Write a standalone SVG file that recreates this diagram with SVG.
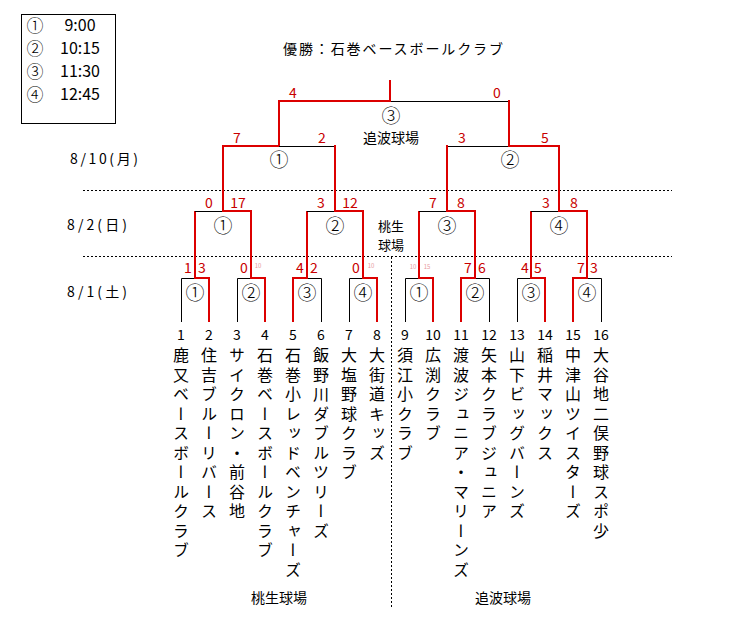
<svg xmlns="http://www.w3.org/2000/svg" width="734" height="635" viewBox="0 0 734 635">
<style>
text{font-family:"Noto Sans CJK JP","Noto Sans",sans-serif;fill:#000;}
.t{font-size:14px;text-anchor:middle;dominant-baseline:central;}
.c{font-size:19px;text-anchor:middle;dominant-baseline:central;font-weight:300;}
.cl{font-size:17px;text-anchor:middle;dominant-baseline:central;font-weight:300;}
.tm{font-size:16px;text-anchor:middle;dominant-baseline:central;}
.s{font-size:14px;text-anchor:middle;dominant-baseline:central;fill:#c80000;}
.tiny{font-size:6px;text-anchor:middle;dominant-baseline:central;fill:#e89aa0;}
.n{font-size:16px;writing-mode:vertical-rl;letter-spacing:3.5px;}
.v{font-size:13px;text-anchor:middle;dominant-baseline:central;}
.r{stroke:#dc0000;stroke-width:2;fill:none;stroke-linecap:square;}
.k{stroke:#000;stroke-width:1;fill:none;}
.d{stroke:#000;stroke-width:1;fill:none;stroke-dasharray:2,2;}
</style>
<rect width="734" height="635" fill="#fff"/>

<g id="legend">
<rect x="21.5" y="14.5" width="94" height="109" class="k"/>
<text class="cl" x="35" y="24">①</text><text class="tm" x="80" y="24">9:00</text>
<text class="cl" x="35" y="47">②</text><text class="tm" x="80" y="47">10:15</text>
<text class="cl" x="35" y="70">③</text><text class="tm" x="80" y="70">11:30</text>
<text class="cl" x="35" y="93">④</text><text class="tm" x="80" y="93">12:45</text>
</g>

<g id="title"><text class="t" x="393" y="48" textLength="220" lengthAdjust="spacing">優勝：石巻ベースボールクラブ</text></g>

<g id="dates">
<text x="70" y="158" font-size="14" dominant-baseline="central" textLength="68" lengthAdjust="spacing">8/10(月)</text>
<text x="67" y="224" font-size="14" dominant-baseline="central" textLength="60" lengthAdjust="spacing">8/2(日)</text>
<text x="67" y="291" font-size="14" dominant-baseline="central" textLength="60" lengthAdjust="spacing">8/1(土)</text>
</g>

<g id="separators">
<line x1="83" y1="190.5" x2="672" y2="190.5" class="d"/>
<line x1="83" y1="256.5" x2="672" y2="256.5" class="d"/>
<line x1="391.5" y1="257" x2="391.5" y2="607" class="d"/>
</g>

<g id="connectors">
<path class="k" d="M181.5 322V278.5H195"/>
<path class="k" d="M237.5 322V278.5H251"/>
<path class="k" d="M321.5 322V278.5H307"/>
<path class="k" d="M349.5 322V278.5H363"/>
<path class="k" d="M405.5 322V278.5H419"/>
<path class="k" d="M489.5 322V278.5H475"/>
<path class="k" d="M517.5 322V278.5H531"/>
<path class="k" d="M601.5 322V278.5H587"/>
<path class="r" d="M209 321V278H195V212"/>
<path class="r" d="M265 321V278H251V212"/>
<path class="r" d="M293 321V278H307V212"/>
<path class="r" d="M377 321V278H363V212"/>
<path class="r" d="M433 321V278H419V212"/>
<path class="r" d="M461 321V278H475V212"/>
<path class="r" d="M545 321V278H531V212"/>
<path class="r" d="M573 321V278H587V212"/>
<path class="k" d="M195 211.5H223"/>
<path class="r" d="M251 211H223V147"/>
<path class="k" d="M307 211.5H335"/>
<path class="r" d="M363 211H335V147"/>
<path class="k" d="M419 211.5H447"/>
<path class="r" d="M475 211H447V147"/>
<path class="k" d="M531 211.5H559"/>
<path class="r" d="M587 211H559V147"/>
<path class="r" d="M223 146H279V102"/>
<path class="k" d="M279 146.5H335"/>
<path class="r" d="M335 146V211"/>
<path class="k" d="M447 146.5H509"/>
<path class="r" d="M447 146V211"/>
<path class="r" d="M223 146V211"/>
<path class="r" d="M559 146H509V102"/>
<path class="k" d="M390 101.5H509"/>
<path class="r" d="M279 101H390V81"/>
<path class="r" d="M509 101V146"/>
</g>

<g id="final">
<text class="s" x="293" y="92">4</text><text class="s" x="497" y="92">0</text>
<text class="c" x="391" y="114">③</text>
<text class="t" x="391" y="137">追波球場</text>
</g>

<g id="sf1"><text class="s" x="237" y="137">7</text><text class="s" x="322" y="137">2</text><text class="c" x="279" y="158">①</text></g>
<g id="sf2"><text class="s" x="462" y="137">3</text><text class="s" x="545" y="137">5</text><text class="c" x="510" y="158">②</text></g>

<g id="qf1"><text class="s" x="209" y="202">0</text><text class="s" x="238" y="202">17</text><text class="c" x="223" y="224">①</text></g>
<g id="qf2"><text class="s" x="321" y="202">3</text><text class="s" x="350" y="202">12</text><text class="c" x="335" y="224">②</text></g>
<g id="qf3"><text class="s" x="433" y="202">7</text><text class="s" x="461" y="202">8</text><text class="c" x="447" y="224">③</text></g>
<g id="qf4"><text class="s" x="546" y="202">3</text><text class="s" x="574" y="202">8</text><text class="c" x="559" y="224">④</text></g>

<g id="venue-momo"><text class="v"><tspan x="391" y="225">桃生</tspan><tspan x="391" y="244">球場</tspan></text></g>

<g id="r1m1"><text class="s" x="188" y="267">1</text><text class="s" x="202" y="267">3</text><text class="c" x="195" y="291">①</text></g>
<g id="r1m2"><text class="s" x="244" y="267">0</text><text class="tiny" x="258" y="265">10</text><text class="c" x="251" y="291">②</text></g>
<g id="r1m3"><text class="s" x="300" y="267">4</text><text class="s" x="314" y="267">2</text><text class="c" x="307" y="291">③</text></g>
<g id="r1m4"><text class="s" x="356" y="267">0</text><text class="tiny" x="371" y="265">10</text><text class="c" x="363" y="291">④</text></g>
<g id="r1m5"><text class="tiny" x="413" y="266">10</text><text class="tiny" x="427" y="266">15</text><text class="c" x="419" y="291">①</text></g>
<g id="r1m6"><text class="s" x="468" y="267">7</text><text class="s" x="482" y="267">6</text><text class="c" x="475" y="291">②</text></g>
<g id="r1m7"><text class="s" x="525" y="267">4</text><text class="s" x="538" y="267">5</text><text class="c" x="531" y="291">③</text></g>
<g id="r1m8"><text class="s" x="581" y="267">7</text><text class="s" x="594" y="267">3</text><text class="c" x="587" y="291">④</text></g>

<g id="team1"><text class="t" x="181" y="334">1</text><text class="n" x="181" y="347">鹿又ベースボールクラブ</text></g>
<g id="team2"><text class="t" x="209" y="334">2</text><text class="n" x="209" y="347">住吉ブルーリバース</text></g>
<g id="team3"><text class="t" x="237" y="334">3</text><text class="n" x="237" y="347">サイクロン・前谷地</text></g>
<g id="team4"><text class="t" x="265" y="334">4</text><text class="n" x="265" y="347">石巻ベースボールクラブ</text></g>
<g id="team5"><text class="t" x="293" y="334">5</text><text class="n" x="293" y="347">石巻小レッドベンチャーズ</text></g>
<g id="team6"><text class="t" x="321" y="334">6</text><text class="n" x="321" y="347">飯野川ダブルツリーズ</text></g>
<g id="team7"><text class="t" x="349" y="334">7</text><text class="n" x="349" y="347">大塩野球クラブ</text></g>
<g id="team8"><text class="t" x="377" y="334">8</text><text class="n" x="377" y="347">大街道キッズ</text></g>
<g id="team9"><text class="t" x="405" y="334">9</text><text class="n" x="405" y="347">須江小クラブ</text></g>
<g id="team10"><text class="t" x="433" y="334">10</text><text class="n" x="433" y="347">広渕クラブ</text></g>
<g id="team11"><text class="t" x="461" y="334">11</text><text class="n" x="461" y="347">渡波ジュニア・マリーンズ</text></g>
<g id="team12"><text class="t" x="489" y="334">12</text><text class="n" x="489" y="347">矢本クラブジュニア</text></g>
<g id="team13"><text class="t" x="517" y="334">13</text><text class="n" x="517" y="347">山下ビッグバーンズ</text></g>
<g id="team14"><text class="t" x="545" y="334">14</text><text class="n" x="545" y="347">稲井マックス</text></g>
<g id="team15"><text class="t" x="573" y="334">15</text><text class="n" x="573" y="347">中津山ツイスターズ</text></g>
<g id="team16"><text class="t" x="601" y="334">16</text><text class="n" x="601" y="347">大谷地二俣野球スポ少</text></g>

<g id="venues-bottom">
<text class="t" x="279" y="597">桃生球場</text>
<text class="t" x="503" y="597">追波球場</text>
</g>
</svg>
